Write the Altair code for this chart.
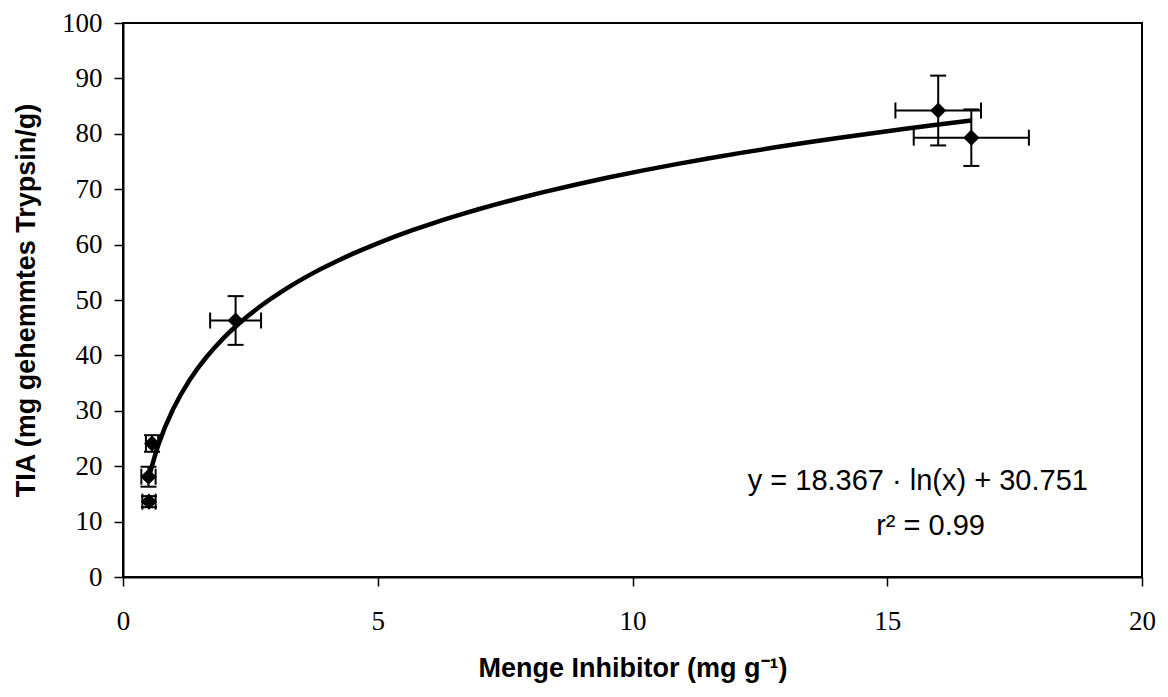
import altair as alt
import pandas as pd

# Data
inhibitor = [0.57, 0.50, 0.51, 2.21, 16.00, 16.65]      # mg g-1
inhibitor_err = [0.12, 0.14, 0.13, 0.50, 0.84, 1.13]
tia = [24.1, 18.1, 13.6, 46.3, 84.2, 79.3]                # mg gehemmtes Trypsin/g
tia_err = [1.5, 1.8, 1.0, 4.4, 6.3, 5.1]

x_ticks = [0, 5, 10, 15, 20]
y_ticks = [0, 10, 20, 30, 40, 50, 60, 70, 80, 90, 100]

eq_text = ["y = 18.367 · ln(x) + 30.751", "r² = 0.99"]
eq_x = [15.6, 15.85]
eq_y = [15.7, 7.6]

df = pd.DataFrame({"x": inhibitor, "xe": inhibitor_err, "y": tia, "ye": tia_err})
df["xlo"] = df["x"] - df["xe"]
df["xhi"] = df["x"] + df["xe"]
df["ylo"] = df["y"] - df["ye"]
df["yhi"] = df["y"] + df["ye"]

eq_df = pd.DataFrame({"x": eq_x, "y": eq_y, "t": eq_text})

xs = alt.Scale(domain=[0, 20], nice=False, zero=False)
ys = alt.Scale(domain=[0, 100], nice=False, zero=False)

x_axis = alt.Axis(
    values=x_ticks, title="Menge Inhibitor (mg g⁻¹)", grid=False,
    tickSize=9, tickColor="black", tickWidth=1.5,
    domainColor="black", domainWidth=2,
    labelFont="Liberation Serif", labelFontSize=27, labelColor="black",
    labelPadding=22, labelFlush=False,
    titleFont="Liberation Sans", titleFontSize=27, titleFontWeight="bold",
    titleColor="black", titlePadding=21)
y_axis = alt.Axis(
    values=y_ticks, title="TIA (mg gehemmtes Trypsin/g)", grid=False,
    tickSize=9, tickColor="black", tickWidth=1.5,
    domainColor="black", domainWidth=2,
    labelFont="Liberation Serif", labelFontSize=27, labelColor="black",
    labelPadding=12, labelFlush=False,
    titleFont="Liberation Sans", titleFontSize=27, titleFontWeight="bold",
    titleColor="black", titlePadding=21)


def X(field):
    return alt.X(field, type="quantitative", scale=xs, axis=x_axis)


def Y(field):
    return alt.Y(field, type="quantitative", scale=ys, axis=y_axis)


base = alt.Chart(df)

hbar = base.mark_rule(color="black", strokeWidth=2).encode(
    x=X("xlo"), x2="xhi:Q", y=Y("y"))
vbar = base.mark_rule(color="black", strokeWidth=2).encode(
    x=X("x"), y=Y("ylo"), y2="yhi:Q")

cap_v = dict(orient="vertical", size=16, thickness=2, color="black", opacity=1)
cap_h = dict(orient="horizontal", size=16, thickness=2, color="black", opacity=1)
hcap_lo = base.mark_tick(**cap_v).encode(x=X("xlo"), y=Y("y"))
hcap_hi = base.mark_tick(**cap_v).encode(x=X("xhi"), y=Y("y"))
vcap_lo = base.mark_tick(**cap_h).encode(x=X("x"), y=Y("ylo"))
vcap_hi = base.mark_tick(**cap_h).encode(x=X("x"), y=Y("yhi"))

curve = base.transform_regression("x", "y", method="log").mark_line(
    color="black", strokeWidth=4.5).encode(x=X("x"), y=Y("y"))

points = base.mark_point(shape="diamond", filled=True, size=260,
                         color="black", opacity=1).encode(x=X("x"), y=Y("y"))

eq = alt.Chart(eq_df).mark_text(font="Liberation Sans", fontSize=29,
                                color="black", align="center",
                                baseline="alphabetic").encode(
    x=X("x"), y=Y("y"), text="t:N")

chart = alt.layer(hbar, vbar, hcap_lo, hcap_hi, vcap_lo, vcap_hi, curve,
                  points, eq).properties(
    width=1019, height=554,
    autosize=alt.AutoSizeParams(type="none"),
    padding={"left": 115, "top": 15, "right": 18, "bottom": 110},
    background="white",
).configure_view(stroke="black", strokeWidth=2)

chart.save("out.html", embed_options={"renderer": "svg", "actions": False})
